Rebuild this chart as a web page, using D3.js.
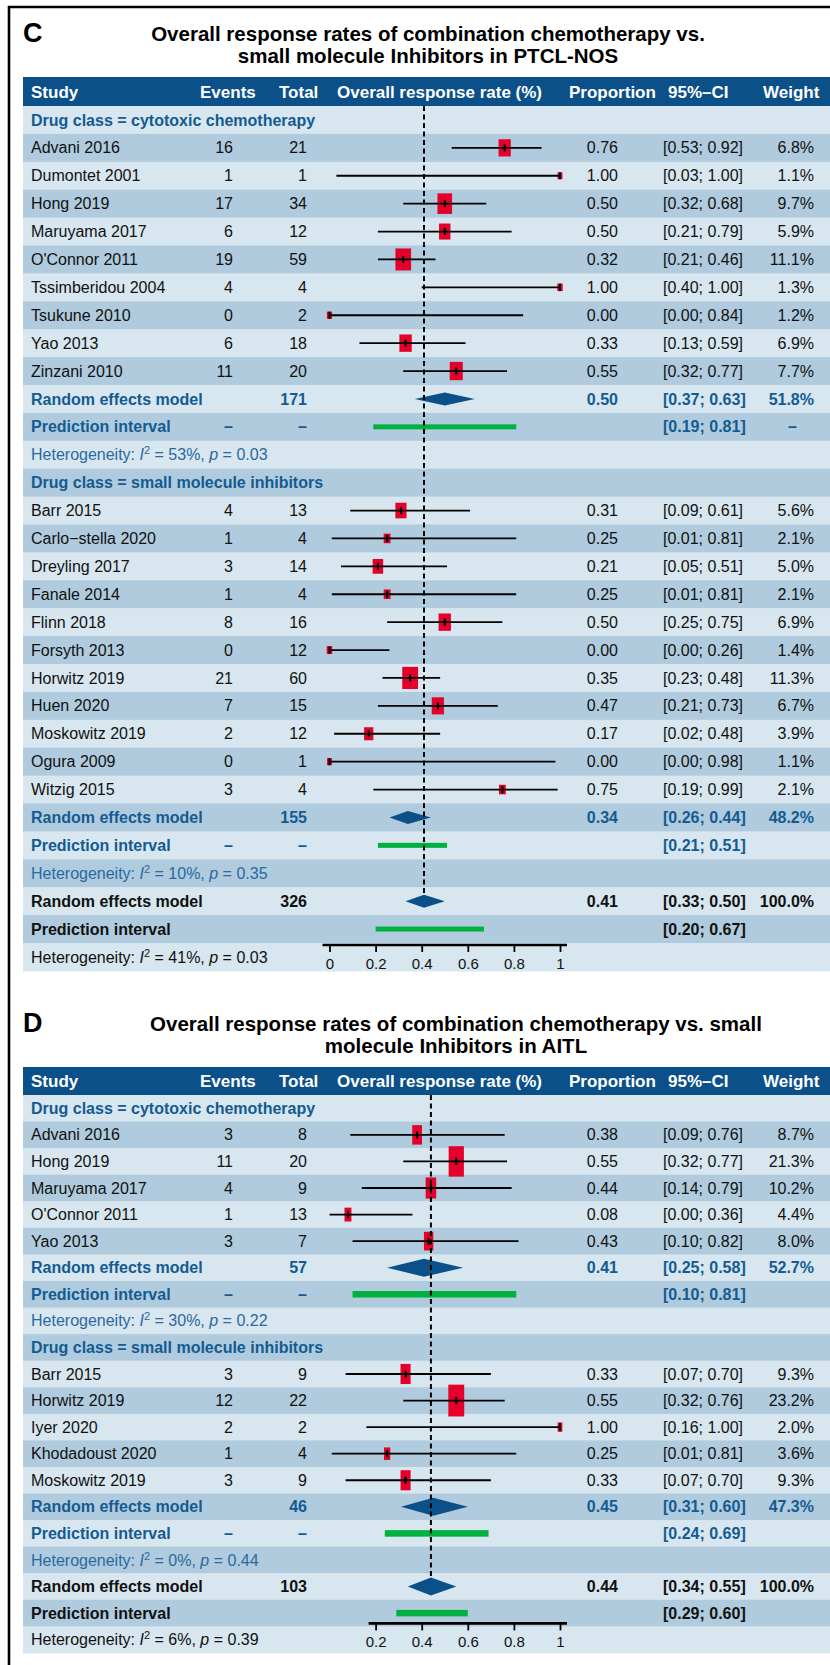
<!DOCTYPE html>
<html>
<head>
<meta charset="utf-8">
<script src="https://cdn.jsdelivr.net/npm/d3@7"></script>
<style>
  body { margin: 0; background: #fff; }
  svg { display: block; font-family: "Liberation Sans", Arial, Helvetica, sans-serif; }
</style>
</head>
<body>
<script>
// ---------- data ----------
// study rows: [study, events, total, proportion, lower, upper, weight %]
const headers = ["Study", "Events", "Total", "Overall response rate (%)", "Proportion", "95%–CI", "Weight"];
const groupLabels = ["Drug class = cytotoxic chemotherapy", "Drug class = small molecule inhibitors"];

// panel C: PTCL-NOS
const cTitle = ["Overall response rates of combination chemotherapy vs.", "small molecule Inhibitors in PTCL-NOS"];
const cChemo = [
  ["Advani 2016", 16, 21, 0.76, 0.53, 0.92, 6.8],
  ["Dumontet 2001", 1, 1, 1.00, 0.03, 1.00, 1.1],
  ["Hong 2019", 17, 34, 0.50, 0.32, 0.68, 9.7],
  ["Maruyama 2017", 6, 12, 0.50, 0.21, 0.79, 5.9],
  ["O'Connor 2011", 19, 59, 0.32, 0.21, 0.46, 11.1],
  ["Tssimberidou 2004", 4, 4, 1.00, 0.40, 1.00, 1.3],
  ["Tsukune 2010", 0, 2, 0.00, 0.00, 0.84, 1.2],
  ["Yao 2013", 6, 18, 0.33, 0.13, 0.59, 6.9],
  ["Zinzani 2010", 11, 20, 0.55, 0.32, 0.77, 7.7]
];
const cSmall = [
  ["Barr 2015", 4, 13, 0.31, 0.09, 0.61, 5.6],
  ["Carlo\u2212stella 2020", 1, 4, 0.25, 0.01, 0.81, 2.1],
  ["Dreyling 2017", 3, 14, 0.21, 0.05, 0.51, 5.0],
  ["Fanale 2014", 1, 4, 0.25, 0.01, 0.81, 2.1],
  ["Flinn 2018", 8, 16, 0.50, 0.25, 0.75, 6.9],
  ["Forsyth 2013", 0, 12, 0.00, 0.00, 0.26, 1.4],
  ["Horwitz 2019", 21, 60, 0.35, 0.23, 0.48, 11.3],
  ["Huen 2020", 7, 15, 0.47, 0.21, 0.73, 6.7],
  ["Moskowitz 2019", 2, 12, 0.17, 0.02, 0.48, 3.9],
  ["Ogura 2009", 0, 1, 0.00, 0.00, 0.98, 1.1],
  ["Witzig 2015", 3, 4, 0.75, 0.19, 0.99, 2.1]
];
const cGroupTotal = [171, 155];
const cGroupEst = [0.50, 0.34];
const cGroupLo = [0.37, 0.26];
const cGroupHi = [0.63, 0.44];
const cGroupWeight = [51.8, 48.2];
const cPredLo = [0.19, 0.21];
const cPredHi = [0.81, 0.51];
const cPredWeight = ["–", ""];
const cHetI2 = [53, 10];
const cHetP = ["0.03", "0.35"];
const cOverall = [326, 0.41, 0.33, 0.50];   // total, estimate, lower, upper
const cOverallPred = [0.20, 0.67];
const cOverallHet = [41, "0.03"];
const cTicks = [0, 0.2, 0.4, 0.6, 0.8, 1];

// panel D: AITL
const dTitle = ["Overall response rates of combination chemotherapy vs. small", "molecule Inhibitors in AITL"];
const dChemo = [
  ["Advani 2016", 3, 8, 0.38, 0.09, 0.76, 8.7],
  ["Hong 2019", 11, 20, 0.55, 0.32, 0.77, 21.3],
  ["Maruyama 2017", 4, 9, 0.44, 0.14, 0.79, 10.2],
  ["O'Connor 2011", 1, 13, 0.08, 0.00, 0.36, 4.4],
  ["Yao 2013", 3, 7, 0.43, 0.10, 0.82, 8.0]
];
const dSmall = [
  ["Barr 2015", 3, 9, 0.33, 0.07, 0.70, 9.3],
  ["Horwitz 2019", 12, 22, 0.55, 0.32, 0.76, 23.2],
  ["Iyer 2020", 2, 2, 1.00, 0.16, 1.00, 2.0],
  ["Khodadoust 2020", 1, 4, 0.25, 0.01, 0.81, 3.6],
  ["Moskowitz 2019", 3, 9, 0.33, 0.07, 0.70, 9.3]
];
const dGroupTotal = [57, 46];
const dGroupEst = [0.41, 0.45];
const dGroupLo = [0.25, 0.31];
const dGroupHi = [0.58, 0.60];
const dGroupWeight = [52.7, 47.3];
const dPredLo = [0.10, 0.24];
const dPredHi = [0.81, 0.69];
const dPredWeight = ["", ""];
const dHetI2 = [30, 0];
const dHetP = ["0.22", "0.44"];
const dOverall = [103, 0.44, 0.34, 0.55];
const dOverallPred = [0.29, 0.60];
const dOverallHet = [6, "0.39"];
const dTicks = [0.2, 0.4, 0.6, 0.8, 1];

// ---------- style ----------
const HEAD = "#0b5088";
const LIGHT = "#d7e6ef";
const DARK = "#afcbdd";
const BLUE = "#135b92";
const HETBLUE = "#2b69a0";
const RED = "#e4002b";
const GREEN = "#00b140";
const INK = "#111";

const W = 830, H = 1665;
const svg = d3.select("body").append("svg").attr("width", W).attr("height", H);

// outer frame
svg.append("path").attr("d", `M9,${H} L9,7 L${W},7`)
  .attr("fill", "none").attr("stroke", "#000").attr("stroke-width", 2.6);

const col = { study: 31, events: 233, total: 307, prop: 618, ci: 663, weight: 814, wdash: 797, left: 23 };
const headX = [31, 200, 279, 337, 569, 668, 763];

const f2 = d3.format(".2f");
const ciText = (lo, hi) => `[${f2(lo)}; ${f2(hi)}]`;
const wText = w => d3.format(".1f")(w) + "%";

function drawPanel(cfg, p) {
  const g = svg.append("g").attr("transform", `translate(0,${cfg.top})`);
  const x = d3.scaleLinear().domain([0, 1]).range([329.5, 560]);

  // panel letter + title
  g.append("text").attr("x", 23).attr("y", 42).attr("font-size", 27).attr("font-weight", "bold")
    .attr("fill", "#000").text(cfg.letter);
  p.title.forEach((t, i) => {
    g.append("text").attr("x", cfg.titleX).attr("y", 41 + i * 22).attr("text-anchor", "middle")
      .attr("font-size", 20.5).attr("font-weight", "bold").attr("fill", "#000").text(t);
  });

  // header
  g.append("rect").attr("x", col.left).attr("y", cfg.headTop).attr("width", W - col.left)
    .attr("height", cfg.headH).attr("fill", HEAD);
  headers.forEach((h, i) => {
    g.append("text").attr("x", headX[i]).attr("y", cfg.headTop + cfg.headH / 2 + 6)
      .attr("font-size", 17).attr("font-weight", "bold").attr("fill", "#fff").text(h);
  });

  // build rows
  const rows = [];
  p.groups.forEach((grp, gi) => {
    rows.push({ type: "label", text: groupLabels[gi] });
    grp.forEach(s => rows.push({ type: "study", s }));
    rows.push({ type: "random", grp: true, total: p.gTotal[gi], est: p.gEst[gi], lo: p.gLo[gi], hi: p.gHi[gi], w: wText(p.gW[gi]) });
    rows.push({ type: "pred", grp: true, lo: p.pLo[gi], hi: p.pHi[gi], w: p.pW[gi] });
    rows.push({ type: "het", grp: true, i2: p.hetI2[gi], pv: p.hetP[gi] });
  });
  rows.push({ type: "random", grp: false, total: p.overall[0], est: p.overall[1], lo: p.overall[2], hi: p.overall[3], w: "100.0%" });
  rows.push({ type: "pred", grp: false, lo: p.oPred[0], hi: p.oPred[1], w: "" });
  rows.push({ type: "het", grp: false, i2: p.oHet[0], pv: p.oHet[1], axis: true });

  const top0 = cfg.headTop + cfg.headH;
  const yTop = i => top0 + i * cfg.step;
  const yMid = i => top0 + (i + 0.5) * cfg.step;

  // row backgrounds
  g.append("g").selectAll("rect").data(rows).join("rect")
    .attr("x", col.left).attr("y", (d, i) => yTop(i)).attr("width", W - col.left)
    .attr("height", cfg.step + 0.5).attr("fill", (d, i) => i % 2 ? DARK : LIGHT);

  const txt = (i, xx, s, opt = {}) => g.append("text")
    .attr("x", xx).attr("y", yMid(i) + 5.6)
    .attr("font-size", 16)
    .attr("text-anchor", opt.anchor || "start")
    .attr("font-weight", opt.bold ? "bold" : "normal")
    .attr("fill", opt.color || INK).text(s);

  const marks = g.append("g");
  let overallIdx = 0;

  rows.forEach((r, i) => {
    const cy = yMid(i);
    if (r.type === "label") {
      txt(i, col.study, r.text, { bold: true, color: BLUE });
    } else if (r.type === "study") {
      const [name, ev, tot, est, lo, hi, w] = r.s;
      txt(i, col.study, name);
      txt(i, col.events, ev, { anchor: "end" });
      txt(i, col.total, tot, { anchor: "end" });
      txt(i, col.prop, f2(est), { anchor: "end" });
      txt(i, col.ci, ciText(lo, hi));
      txt(i, col.weight, wText(w), { anchor: "end" });
      const bw = cfg.boxW * Math.sqrt(w), bh = cfg.boxH * Math.sqrt(w);
      marks.append("rect").attr("x", x(est) - bw / 2).attr("y", cy - bh / 2)
        .attr("width", bw).attr("height", bh).attr("fill", RED);
      marks.append("line").attr("x1", x(lo)).attr("x2", x(hi)).attr("y1", cy).attr("y2", cy)
        .attr("stroke", "#000").attr("stroke-width", 1.8);
      marks.append("line").attr("x1", x(est)).attr("x2", x(est)).attr("y1", cy - 3.6).attr("y2", cy + 3.6)
        .attr("stroke", "#000").attr("stroke-width", 2);
    } else if (r.type === "random") {
      const c = r.grp ? BLUE : INK;
      txt(i, col.study, "Random effects model", { bold: true, color: c });
      txt(i, col.total, r.total, { anchor: "end", bold: true, color: c });
      txt(i, col.prop, f2(r.est), { anchor: "end", bold: true, color: c });
      txt(i, col.ci, ciText(r.lo, r.hi), { bold: true, color: c });
      txt(i, col.weight, r.w, { anchor: "end", bold: true, color: c });
      const h = cfg.diamondH / 2;
      marks.append("path")
        .attr("d", `M${x(r.lo)},${cy} L${x(r.est)},${cy - h} L${x(r.hi)},${cy} L${x(r.est)},${cy + h} Z`)
        .attr("fill", HEAD);
      if (!r.grp) { overallIdx = i; }
    } else if (r.type === "pred") {
      const c = r.grp ? BLUE : INK;
      txt(i, col.study, "Prediction interval", { bold: true, color: c });
      if (r.grp) {
        txt(i, col.events, "–", { anchor: "end", bold: true, color: c });
        txt(i, col.total, "–", { anchor: "end", bold: true, color: c });
      }
      txt(i, col.ci, ciText(r.lo, r.hi), { bold: true, color: c });
      if (r.w) txt(i, col.wdash, r.w, { anchor: "end", bold: true, color: c });
      marks.append("rect").attr("x", x(r.lo)).attr("y", cy - cfg.predH / 2)
        .attr("width", x(r.hi) - x(r.lo)).attr("height", cfg.predH).attr("fill", GREEN);
    } else if (r.type === "het") {
      const t = txt(i, col.study, "Heterogeneity: ", { color: r.grp ? HETBLUE : INK });
      t.append("tspan").attr("font-style", "italic").text("I");
      t.append("tspan").attr("font-size", 11).attr("dy", -6).text("2");
      t.append("tspan").attr("dy", 6).text(` = ${r.i2}%, `);
      t.append("tspan").attr("font-style", "italic").text("p");
      t.append("tspan").text(` = ${r.pv}`);
      if (r.axis) {
        const ay = yTop(i) + cfg.axisDy;
        const ax = g.append("g").attr("transform", `translate(0,${ay})`)
          .call(d3.axisBottom(x).tickValues(p.ticks).tickSize(7).tickSizeOuter(0).tickFormat(d3.format("~g")));
        ax.select(".domain").remove();
        ax.selectAll(".tick line").attr("stroke", "#000").attr("stroke-width", 1.8);
        ax.selectAll(".tick text").attr("font-size", 15).attr("fill", INK)
          .attr("font-family", "Liberation Sans, Arial, sans-serif").attr("y", 13);
        ax.append("line").attr("x1", x(p.ticks[0]) - 7).attr("x2", x(1) + 7)
          .attr("y1", 0).attr("y2", 0).attr("stroke", "#000").attr("stroke-width", 2.6);
      }
    }
  });

  // reference line at the overall estimate, down to the top of the overall diamond
  g.append("line").attr("x1", x(p.overall[1])).attr("x2", x(p.overall[1]))
    .attr("y1", top0).attr("y2", yMid(overallIdx) - cfg.diamondH / 2)
    .attr("stroke", "#000").attr("stroke-width", 2).attr("stroke-dasharray", "5,3.5");
}

drawPanel(
  { top: 0, letter: "C", titleX: 428, headTop: 77, headH: 29, step: 27.9, boxW: 4.7, boxH: 6.6, diamondH: 13, predH: 5, axisDy: 2 },
  { title: cTitle, groups: [cChemo, cSmall], gTotal: cGroupTotal, gEst: cGroupEst, gLo: cGroupLo, gHi: cGroupHi,
    gW: cGroupWeight, pLo: cPredLo, pHi: cPredHi, pW: cPredWeight, hetI2: cHetI2, hetP: cHetP,
    overall: cOverall, oPred: cOverallPred, oHet: cOverallHet, ticks: cTicks }
);

drawPanel(
  { top: 990, letter: "D", titleX: 456, headTop: 77, headH: 28, step: 26.57, boxW: 3.3, boxH: 6.6, diamondH: 18, predH: 6.5, axisDy: -3 },
  { title: dTitle, groups: [dChemo, dSmall], gTotal: dGroupTotal, gEst: dGroupEst, gLo: dGroupLo, gHi: dGroupHi,
    gW: dGroupWeight, pLo: dPredLo, pHi: dPredHi, pW: dPredWeight, hetI2: dHetI2, hetP: dHetP,
    overall: dOverall, oPred: dOverallPred, oHet: dOverallHet, ticks: dTicks }
);
</script>
</body>
</html>
